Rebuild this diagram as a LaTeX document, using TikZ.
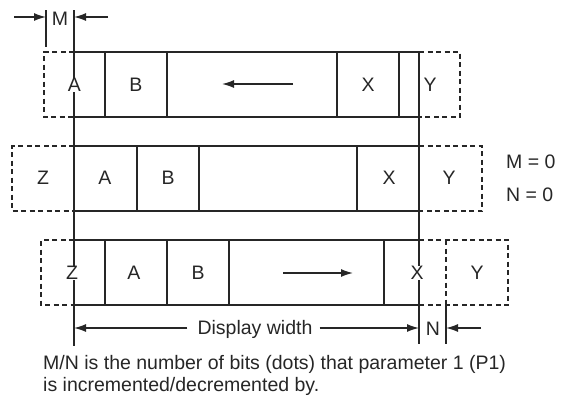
\documentclass[tikz,border=0pt]{standalone}
\usepackage{fontspec}
\setmainfont{Liberation Sans}
\usetikzlibrary{arrows.meta}
\begin{document}
\begin{tikzpicture}[x=1pt,y=-1pt,
  every node/.style={font=\fontsize{19.5}{22.5}\selectfont, text=black!85},
  ln/.style={line width=1.4pt, draw=black!85},
  dsh/.style={line width=1.4pt, draw=black!85, dash pattern=on 5pt off 3.5pt},
  arr/.style={line width=1.4pt, draw=black!85, -{Latex[length=12pt,width=8pt]}},
  lab/.style={fill=white, inner sep=0.5pt},
  plain/.style={inner sep=0pt}]
\useasboundingbox (0,0) rectangle (564,397);

% ---- row 1 (shifted left by M)
\draw[dsh] (74,52) -- (44,52) -- (44,117) -- (74,117);
\draw[dsh] (419,52) -- (460,52) -- (460,117) -- (419,117);
\draw[ln] (74,52) -- (419,52) (74,117) -- (419,117);
\foreach \x in {105,167,337,399} \draw[ln] (\x,52) -- (\x,117);

% ---- row 2 (M = 0, N = 0)
\draw[dsh] (74,146) -- (12,146) -- (12,211) -- (74,211);
\draw[dsh] (419,146) -- (482,146) -- (482,211) -- (419,211);
\draw[ln] (74,146) -- (419,146) (74,211) -- (419,211);
\foreach \x in {137,199,357} \draw[ln] (\x,146) -- (\x,211);

% ---- row 3 (shifted right by N)
\draw[dsh] (74,240) -- (41,240) -- (41,305) -- (74,305);
\draw[dsh] (419,240) -- (508,240) -- (508,305) -- (419,305);
\draw[dsh] (446,240) -- (446,305);
\draw[ln] (74,240) -- (419,240) (74,305) -- (419,305);
\foreach \x in {105,167,229,384} \draw[ln] (\x,240) -- (\x,305);

% ---- display edges
\coordinate (dlT) at (74,10);
\coordinate (dlB) at (74,346);
\coordinate (drT) at (419,52);
\coordinate (drB) at (419,344);
\draw[ln] (dlT) -- (dlB);
\draw[ln] (drT) -- (drB);
\coordinate (mT) at (46,10);
\coordinate (mB) at (46,47);
\draw[ln] (mT) -- (mB);
\coordinate (nT) at (446,305);
\coordinate (nB) at (446,344);
\draw[ln] (nT) -- (nB);

% ---- cell labels row 1
\node[lab] (a1) at (74.5,85) {A};
\node[plain] (b1) at (136,85) {B};
\node[plain] (x1) at (368,85) {X};
\node[plain] (y1) at (430,85) {Y};
\coordinate (r1s) at (293,84);
\coordinate (r1e) at (222,84);
\draw[arr] (r1s) -- (r1e);

% ---- cell labels row 2
\node[plain] (z2) at (43,178) {Z};
\node[plain] (a2) at (105,178) {A};
\node[plain] (b2) at (168,178) {B};
\node[plain] (x2) at (389,178) {X};
\node[plain] (y2) at (449,178) {Y};
\node[plain, anchor=west] (m0) at (506,162) {M = 0};
\node[plain, anchor=west] (n0) at (506,195) {N = 0};

% ---- cell labels row 3
\node[lab] (z3) at (72,273) {Z};
\node[plain] (a3) at (134,273) {A};
\node[plain] (b3) at (198,273) {B};
\node[lab] (x3) at (417,273) {X};
\node[plain] (y3) at (477,273) {Y};
\coordinate (r3s) at (283,273);
\coordinate (r3e) at (353,273);
\draw[arr] (r3s) -- (r3e);

% ---- M dimension
\node[plain] (M) at (60,19) {M};
\coordinate (mL) at (14,17);
\coordinate (mR) at (108,17);
\coordinate (mLe) at (46,17);
\coordinate (mRe) at (74,17);
\draw[arr] (mL) -- (mLe);
\draw[arr] (mR) -- (mRe);

% ---- Display width
\node[plain] (dw) at (255,329) {Display width};
\coordinate (dwL) at (74,328);
\coordinate (dwR) at (419,328);
\draw[arr] (dw.west) ++(-10,-1) -- (dwL);
\draw[arr] (dw.east) ++(7,-1) -- (dwR);

% ---- N dimension
\node[plain] (N) at (433,329) {N};
\coordinate (nR) at (481,328);
\coordinate (nRe) at (446,328);
\draw[arr] (nR) -- (nRe);

% ---- caption
\node[plain, anchor=north west, align=left] (cap) at (43,355)
  {M/N is the number of bits (dots) that parameter 1 (P1)\\is incremented/decremented by.};
\end{tikzpicture}
\end{document}
